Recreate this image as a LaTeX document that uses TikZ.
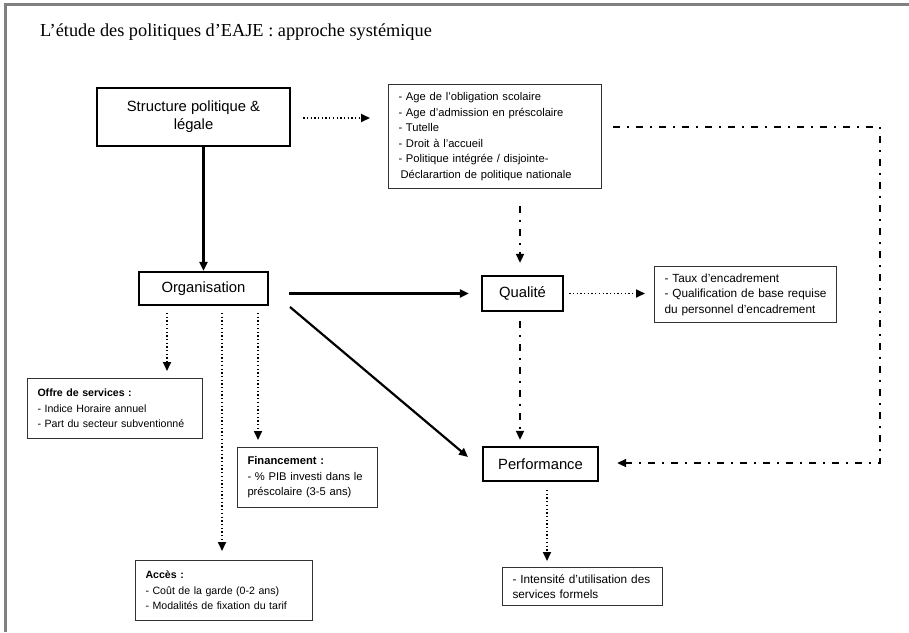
\documentclass[tikz,border=0pt]{standalone}
\usepackage{fontspec}
\setmainfont{Liberation Serif}
\newfontfamily\arialf{Liberation Sans}
\usetikzlibrary{arrows.meta}
\begin{document}
\begin{tikzpicture}[x=1pt,y=-1pt,
  bigbox/.style={draw=black, line width=2.4pt, rectangle, inner sep=0pt, align=center,
     font=\arialf\fontsize{14.8}{18}\selectfont},
  txtbox/.style={draw=black!80, line width=1pt, rectangle, anchor=north west, inner xsep=10pt, inner ysep=0pt,
     align=left, font=\arialf\fontsize{11.2}{15.5}\selectfont},
  smalltxt/.style={font=\arialf\fontsize{10.6}{15.5}\selectfont},
  largetxt/.style={font=\arialf\fontsize{11.8}{15.5}\selectfont},
  tip/.style={-{Triangle[length=9pt,width=8pt]}},
  solidarr/.style={tip, line width=2.2pt},
  dotarr/.style={tip, line width=1.7pt, dash pattern=on 1.3pt off 2.4pt},
  dasharr/.style={line width=2pt, dash pattern=on 7pt off 7pt on 2pt off 7pt}
]
\useasboundingbox (0,0) rectangle (909,632);
\fill[white] (0,0) rectangle (909,632);
% frame
\draw[gray, line width=3pt] (5,632) -- (5,4.5) -- (909,4.5);

% title
\node[anchor=west, inner sep=0pt, font=\fontsize{18.3}{20}\selectfont] (title) at (40,32)
  {L’étude des politiques d’EAJE : approche systémique};

% main boxes
\node[bigbox, minimum width=193pt, minimum height=58pt] (struct) at (193.5,117) {Structure politique \&\\légale};
\node[bigbox, minimum width=129pt, minimum height=33pt] (org) at (203.5,288.5) {Organisation};
\node[bigbox, minimum width=81pt, minimum height=35pt] (qual) at (522.5,293.5) {Qualité};
\node[bigbox, minimum width=115pt, minimum height=34pt] (perf) at (540.5,464) {Performance};

% text boxes
\node[txtbox, minimum width=213pt, minimum height=104pt, text width=193pt] (pol) at (388,84)
  {- Age de l’obligation scolaire\\- Age d’admission en préscolaire\\- Tutelle\\- Droit à l’accueil\\- Politique intégrée / disjointe-\\\hspace*{2pt}Déclarartion de politique nationale};
\node[txtbox, largetxt, minimum width=182pt, minimum height=56pt, text width=162pt] (taux) at (654,266)
  {- Taux d’encadrement\\\mbox{- Qualification de base requise}\\\mbox{du personnel d’encadrement}};
\node[txtbox, smalltxt, minimum width=175pt, minimum height=60pt, text width=155pt] (offre) at (27,378)
  {\textbf{Offre de services :}\\- Indice Horaire annuel\\\mbox{- Part du secteur subventionné}};
\node[txtbox, minimum width=140pt, minimum height=60pt, text width=120pt] (fin) at (237,447)
  {\textbf{Financement :}\\\mbox{- \% PIB investi dans le}\\\mbox{préscolaire (3-5 ans)}};
\node[txtbox, smalltxt, minimum width=177pt, minimum height=60pt, text width=157pt] (acces) at (135,560)
  {\textbf{Accès :}\\- Coût de la garde (0-2 ans)\\\mbox{- Modalités de fixation du tarif}};
\node[txtbox, largetxt, minimum width=160pt, minimum height=38pt, text width=140pt] (intens) at (502,567)
  {\mbox{- Intensité d’utilisation des}\\services formels};

% helper coordinates
\coordinate (rc1) at (880,127);
\coordinate (rc2) at (880,463);
\coordinate (dgA) at (290,307);
\coordinate (dgB) at (468,457);
\coordinate (o1) at (167,305);
\coordinate (o2) at (222,305);
\coordinate (o3) at (258,305);
\coordinate (pf) at (547,481);

% connectors
\draw[solidarr] (struct.south -| org.north) -- (org.north);
\draw[dotarr, shorten <=12pt, shorten >=18pt] (struct.east |- 0,118) -- (pol.west |- 0,118);
\draw[dasharr, tip, shorten <=17pt, shorten >=12pt] (pol.south -| 520,0) -- (qual.north -| 520,0);
\draw[dasharr, tip, shorten <=11pt, shorten >=18pt] (pol.east |- rc1) -- (rc1) -- (rc2) -- (rc2 -| perf.east);
\draw[solidarr, shorten <=20pt, shorten >=12pt] (org.east |- qual.west) -- (qual.west);
\draw[dotarr, shorten <=5pt, shorten >=9pt] (qual.east) -- (taux.west |- qual.east);
\draw[dasharr, tip, shorten <=9pt, shorten >=6pt] (qual.south -| 520,0) -- (perf.north -| 520,0);
\draw[solidarr] (dgA) -- (dgB);
\draw[dotarr, shorten <=9pt, shorten >=6pt] (pf) -- (pf |- intens.north);
\draw[dotarr, shorten <=8pt, shorten >=7pt] (o1) -- (o1 |- offre.north);
\draw[dotarr, shorten <=8pt, shorten >=9pt] (o2) -- (o2 |- acces.north);
\draw[dotarr, shorten <=8pt, shorten >=7pt] (o3) -- (o3 |- fin.north);
\end{tikzpicture}
\end{document}
